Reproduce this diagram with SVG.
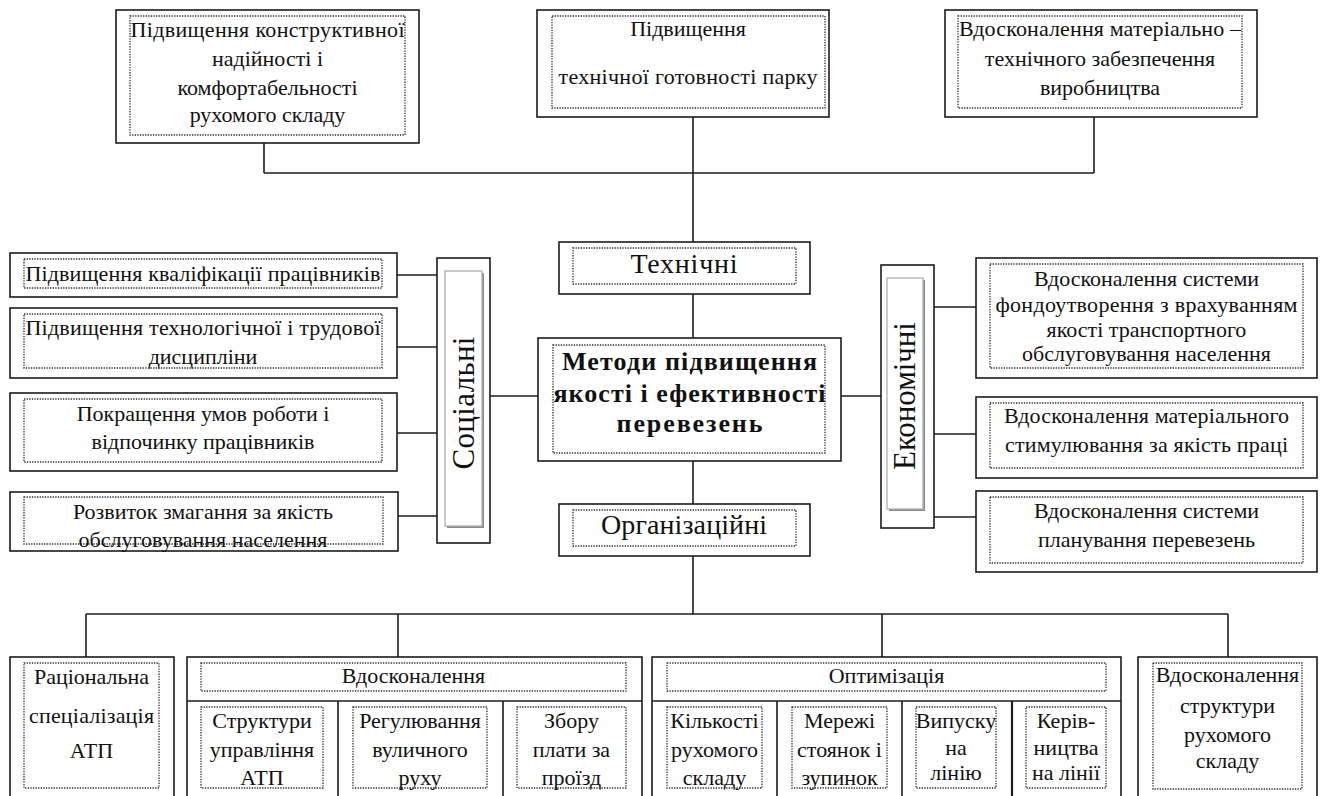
<svg xmlns="http://www.w3.org/2000/svg" width="1322" height="796" viewBox="0 0 1322 796" font-family="Liberation Serif, DejaVu Serif, Noto Serif, Times New Roman, serif">
  <style>
    .box { fill: #ffffff; stroke: #1c1c1c; stroke-width: 1.6; }
    .dot { fill: none; stroke: #2a2a2a; stroke-width: 1.3; stroke-dasharray: 1.3 1.3; }
    .frame { fill: none; stroke: #b4b4b4; stroke-width: 1.4; }
    .shade { fill: none; stroke: #8a8a8a; stroke-width: 2; }
    .sep { stroke: #1c1c1c; stroke-width: 1.6; }
    .t { font-size: 22px; fill: #111111; text-anchor: middle; }
    .big { font-size: 28px; }
    .head { font-size: 26px; font-weight: bold; }
    .vert { font-size: 31px; }
    #connectors line { stroke: #1c1c1c; stroke-width: 1.6; }
  </style>
  <rect x="0" y="0" width="1322" height="796" fill="#ffffff"/>

  <!-- connectors -->
  <g id="connectors">
    <line x1="264" y1="143" x2="264" y2="173"/>
    <line x1="1094" y1="117" x2="1094" y2="173"/>
    <line x1="264" y1="173" x2="1094" y2="173"/>
    <line x1="693" y1="117" x2="693" y2="242"/>
    <line x1="693" y1="294" x2="693" y2="338"/>
    <line x1="693" y1="461" x2="693" y2="504"/>
    <line x1="490" y1="396" x2="538" y2="396"/>
    <line x1="841" y1="396" x2="881" y2="396"/>
    <line x1="397" y1="275" x2="437" y2="275"/>
    <line x1="397" y1="347" x2="437" y2="347"/>
    <line x1="397" y1="433" x2="437" y2="433"/>
    <line x1="398" y1="516" x2="437" y2="516"/>
    <line x1="934" y1="307" x2="976" y2="307"/>
    <line x1="934" y1="434" x2="976" y2="434"/>
    <line x1="934" y1="517" x2="976" y2="517"/>
    <line x1="693" y1="556" x2="693" y2="614"/>
    <line x1="86" y1="614" x2="1228" y2="614"/>
    <line x1="86" y1="614" x2="86" y2="657"/>
    <line x1="398" y1="614" x2="398" y2="657"/>
    <line x1="882" y1="614" x2="882" y2="657"/>
    <line x1="1228" y1="614" x2="1228" y2="657"/>
  </g>

  <!-- top row -->
  <g id="n-construct">
    <rect class="box" x="116" y="10" width="303" height="133"/>
    <rect class="dot" x="130" y="16" width="275" height="119"/>
    <text class="t" x="267.5" y="37" textLength="274">Підвищення конструктивної</text>
    <text class="t" x="267.5" y="66">надійності і</text>
    <text class="t" x="267.5" y="95">комфортабельності</text>
    <text class="t" x="267.5" y="122">рухомого складу</text>
  </g>
  <g id="n-readiness">
    <rect class="box" x="537" y="10" width="292" height="107"/>
    <rect class="dot" x="552" y="16" width="273" height="92"/>
    <text class="t" x="688" y="36">Підвищення</text>
    <text class="t" x="688" y="84" textLength="259">технічної готовності парку</text>
  </g>
  <g id="n-supply">
    <rect class="box" x="945" y="10" width="312" height="107"/>
    <rect class="dot" x="958" y="16" width="284" height="92"/>
    <text class="t" x="1100" y="36" textLength="282">Вдосконалення матеріально –</text>
    <text class="t" x="1100" y="66">технічного забезпечення</text>
    <text class="t" x="1100" y="95">виробництва</text>
  </g>

  <!-- centre column -->
  <g id="n-technical">
    <rect class="box" x="559" y="242" width="251" height="52"/>
    <rect class="dot" x="573" y="248" width="223" height="36"/>
    <text class="t big" x="684" y="273" textLength="107">Технічні</text>
  </g>
  <g id="n-methods">
    <rect class="box" x="538" y="338" width="303" height="123"/>
    <rect class="dot" x="553" y="345" width="272" height="108"/>
    <text class="t head" x="689.5" y="370" textLength="255">Методи підвищення</text>
    <text class="t head" x="689.5" y="402" textLength="272">якості і ефективності</text>
    <text class="t head" x="689.5" y="432" textLength="146">перевезень</text>
  </g>
  <g id="n-organisational">
    <rect class="box" x="559" y="504" width="251" height="52"/>
    <rect class="dot" x="573" y="510" width="223" height="36"/>
    <text class="t big" x="684" y="534" textLength="166">Організаційні</text>
  </g>

  <!-- social branch -->
  <g id="n-social">
    <rect class="box" x="437" y="258" width="53" height="285"/>
    <polyline class="shade" points="483,273 483,527 447,527"/>
    <rect class="frame" x="445" y="271" width="37" height="255"/>
    <text class="t vert" transform="translate(474,403) rotate(-90)" textLength="133">Соціальні</text>
  </g>
  <g id="n-qualification">
    <rect class="box" x="10" y="253" width="387" height="44"/>
    <rect class="dot" x="24" y="259" width="358" height="29"/>
    <text class="t" x="203" y="281" textLength="355">Підвищення кваліфікації працівників</text>
  </g>
  <g id="n-discipline">
    <rect class="box" x="10" y="308" width="387" height="70"/>
    <rect class="dot" x="24" y="314" width="358" height="54"/>
    <text class="t" x="203" y="335" textLength="355">Підвищення технологічної і трудової</text>
    <text class="t" x="203" y="364">дисципліни</text>
  </g>
  <g id="n-conditions">
    <rect class="box" x="10" y="393" width="387" height="78"/>
    <rect class="dot" x="24" y="399" width="358" height="63"/>
    <text class="t" x="203" y="421">Покращення умов роботи і</text>
    <text class="t" x="203" y="449">відпочинку працівників</text>
  </g>
  <g id="n-competition">
    <rect class="box" x="10" y="492" width="388" height="59"/>
    <rect class="dot" x="24" y="497" width="359" height="47"/>
    <text class="t" x="203" y="519">Розвиток змагання за якість</text>
    <text class="t" x="203" y="547">обслуговування населення</text>
  </g>

  <!-- economic branch -->
  <g id="n-economic">
    <rect class="box" x="881" y="265" width="53" height="263"/>
    <polyline class="shade" points="924,280 924,510 889,510"/>
    <rect class="frame" x="887" y="278" width="36" height="231"/>
    <text class="t vert" transform="translate(915,396) rotate(-90)" textLength="148">Економічні</text>
  </g>
  <g id="n-funds">
    <rect class="box" x="976" y="258" width="341" height="120"/>
    <rect class="dot" x="990" y="264" width="313" height="104"/>
    <text class="t" x="1146.5" y="286">Вдосконалення системи</text>
    <text class="t" x="1146.5" y="312" textLength="302">фондоутворення з врахуванням</text>
    <text class="t" x="1146.5" y="337">якості транспортного</text>
    <text class="t" x="1146.5" y="361">обслуговування населення</text>
  </g>
  <g id="n-incentive">
    <rect class="box" x="976" y="397" width="341" height="81"/>
    <rect class="dot" x="990" y="403" width="313" height="65"/>
    <text class="t" x="1146.5" y="423" textLength="285">Вдосконалення матеріального</text>
    <text class="t" x="1146.5" y="452" textLength="283">стимулювання за якість праці</text>
  </g>
  <g id="n-planning">
    <rect class="box" x="976" y="491" width="341" height="81"/>
    <rect class="dot" x="990" y="497" width="313" height="66"/>
    <text class="t" x="1146.5" y="518">Вдосконалення системи</text>
    <text class="t" x="1146.5" y="547">планування перевезень</text>
  </g>

  <!-- bottom row -->
  <g id="n-specialisation">
    <rect class="box" x="10" y="657" width="164" height="150"/>
    <rect class="dot" x="24" y="663" width="135" height="125"/>
    <text class="t" x="91.5" y="684">Раціональна</text>
    <text class="t" x="91.5" y="723" textLength="125">спеціалізація</text>
    <text class="t" x="91.5" y="758">АТП</text>
  </g>
  <g id="n-improve">
    <rect class="box" x="187" y="657" width="455" height="150"/>
    <line class="sep" x1="187" y1="701" x2="642" y2="701"/>
    <line class="sep" x1="338" y1="701" x2="338" y2="800"/>
    <line class="sep" x1="503" y1="701" x2="503" y2="800"/>
    <rect class="dot" x="201" y="663" width="425" height="28"/>
    <text class="t" x="413.5" y="683">Вдосконалення</text>
    <rect class="dot" x="201" y="707" width="122" height="81"/>
    <text class="t" x="262" y="728">Структури</text>
    <text class="t" x="262" y="757">управління</text>
    <text class="t" x="262" y="785">АТП</text>
    <rect class="dot" x="353" y="707" width="134" height="81"/>
    <text class="t" x="420" y="728">Регулювання</text>
    <text class="t" x="420" y="757">вуличного</text>
    <text class="t" x="420" y="785">руху</text>
    <rect class="dot" x="517" y="707" width="109" height="81"/>
    <text class="t" x="571.5" y="728">Збору</text>
    <text class="t" x="571.5" y="757">плати за</text>
    <text class="t" x="571.5" y="785">проїзд</text>
  </g>
  <g id="n-optimise">
    <rect class="box" x="652" y="657" width="469" height="150"/>
    <line class="sep" x1="652" y1="701" x2="1121" y2="701"/>
    <line class="sep" x1="777" y1="701" x2="777" y2="800"/>
    <line class="sep" x1="902" y1="701" x2="902" y2="800"/>
    <line class="sep" x1="1012" y1="701" x2="1012" y2="800" style="stroke-width:2.2"/>
    <rect class="dot" x="667" y="663" width="439" height="28"/>
    <text class="t" x="886.5" y="683">Оптимізація</text>
    <rect class="dot" x="667" y="707" width="95" height="81"/>
    <text class="t" x="714.5" y="728">Кількості</text>
    <text class="t" x="714.5" y="757">рухомого</text>
    <text class="t" x="714.5" y="785">складу</text>
    <rect class="dot" x="792" y="707" width="95" height="81"/>
    <text class="t" x="839.5" y="728">Мережі</text>
    <text class="t" x="839.5" y="757">стоянок і</text>
    <text class="t" x="839.5" y="785">зупинок</text>
    <rect class="dot" x="916" y="707" width="80" height="81"/>
    <text class="t" x="956" y="728">Випуску</text>
    <text class="t" x="956" y="755">на</text>
    <text class="t" x="956" y="780">лінію</text>
    <rect class="dot" x="1026" y="707" width="80" height="81"/>
    <text class="t" x="1066" y="728">Керів-</text>
    <text class="t" x="1066" y="755">ництва</text>
    <text class="t" x="1066" y="780">на лінії</text>
  </g>
  <g id="n-fleet">
    <rect class="box" x="1138" y="657" width="179" height="150"/>
    <rect class="dot" x="1153" y="663" width="149" height="126"/>
    <text class="t" x="1227.5" y="682">Вдосконалення</text>
    <text class="t" x="1227.5" y="713">структури</text>
    <text class="t" x="1227.5" y="742">рухомого</text>
    <text class="t" x="1227.5" y="768">складу</text>
  </g>
</svg>
